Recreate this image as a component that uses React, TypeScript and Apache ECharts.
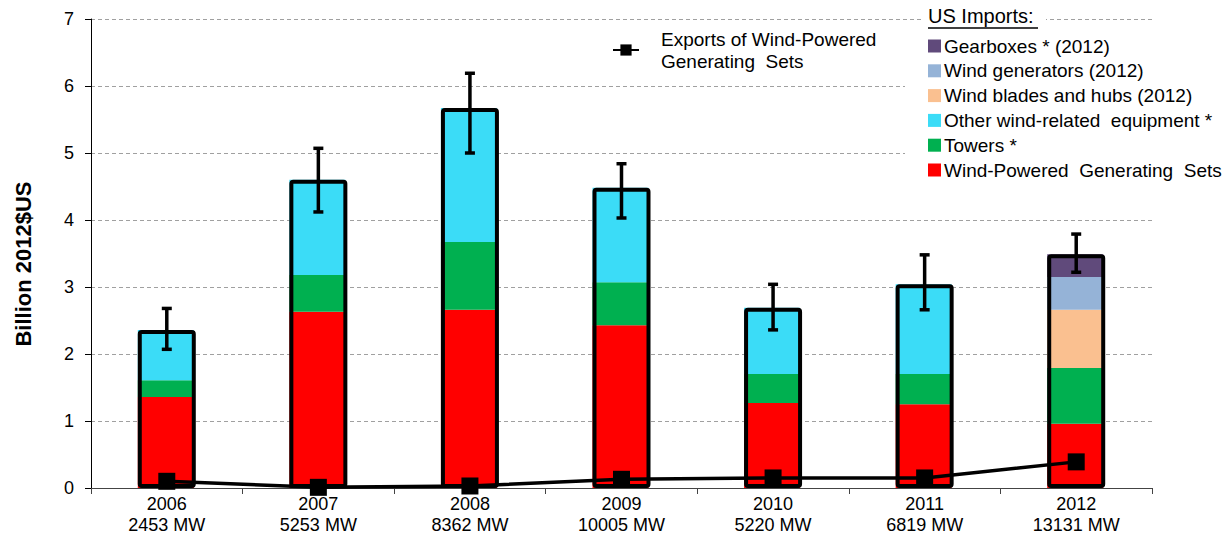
import React, { useEffect, useRef } from "react";
import * as echarts from "echarts";

const categories = ["2006\n2453 MW", "2007\n5253 MW", "2008\n8362 MW", "2009\n10005 MW", "2010\n5220 MW", "2011\n6819 MW", "2012\n13131 MW"];
const windSets = [1.36, 2.63, 2.66, 2.43, 1.27, 1.25, 0.96];
const towers = [0.25, 0.55, 1.01, 0.64, 0.43, 0.45, 0.83];
const otherEquip = [0.75, 1.42, 2.0, 1.41, 0.99, 1.34, 0];
const blades = [0, 0, 0, 0, 0, 0, 0.87];
const generators = [0, 0, 0, 0, 0, 0, 0.49];
const gearboxes = [0, 0, 0, 0, 0, 0, 0.34];
const totals = [2.36, 4.6, 5.67, 4.48, 2.69, 3.04, 3.49];
const errLow = [2.07, 4.12, 5.0, 4.03, 2.36, 2.66, 3.22];
const errHigh = [2.68, 5.07, 6.19, 4.84, 3.04, 3.48, 3.79];
const exportsVals = [0.1, 0.01, 0.03, 0.13, 0.15, 0.15, 0.39];
const yTicks = [0, 1, 2, 3, 4, 5, 6, 7];

const FONT = "Liberation Sans, Arial, sans-serif";
const EXPORT_NAME = "Exports of Wind-Powered\nGenerating  Sets";

export default function App() {
  const ref = useRef<HTMLDivElement>(null);
  useEffect(() => {
    const chart = echarts.init(ref.current!, null, { renderer: "svg" });
    const mkBar = (name: string, data: number[], color: string) => ({
      name,
      type: "bar",
      stack: "imports",
      data,
      barWidth: 56,
      itemStyle: { color, borderWidth: 0 },
      z: 2,
    });
    chart.setOption({
      animation: false,
      textStyle: { fontFamily: FONT },
      grid: { left: 91, right: 74, top: 19, bottom: 57, containLabel: false },
      xAxis: {
        type: "category",
        data: categories,
        axisLine: { lineStyle: { color: "#444", width: 1 } },
        axisTick: { show: true, length: 6, inside: false, lineStyle: { color: "#444" } },
        axisLabel: { color: "#000", fontSize: 18, lineHeight: 21, margin: 5, fontFamily: FONT },
      },
      yAxis: {
        type: "value",
        min: 0,
        max: 7,
        interval: 1,
        axisLine: { show: true, lineStyle: { color: "#000", width: 1 } },
        axisTick: { show: true, length: 6, lineStyle: { color: "#000" } },
        axisLabel: {
          color: "#000",
          fontSize: 18,
          margin: 17,
          fontFamily: FONT,
          formatter: (v: number) => (yTicks.includes(v) ? String(v) : ""),
        },
        splitLine: { show: true, lineStyle: { color: "#A0A0A0", type: [4, 3], width: 1 } },
      },
      legend: [
        {
          orient: "vertical",
          left: 928,
          top: 36,
          itemWidth: 13,
          itemHeight: 13,
          itemGap: 4.8,
          padding: 0,
          icon: "rect",
          data: [
            "Gearboxes * (2012)",
            "Wind generators (2012)",
            "Wind blades and hubs (2012)",
            "Other wind-related  equipment *",
            "Towers *",
            "Wind-Powered  Generating  Sets",
          ],
          textStyle: { color: "#000", fontSize: 19, fontFamily: FONT, padding: [0, 0, 0, -2], lineHeight: 20 },
          selectedMode: false,
          z: 10,
        },
        {
          orient: "vertical",
          left: 612,
          top: 28,
          itemWidth: 26,
          itemHeight: 14,
          padding: 0,
          data: [EXPORT_NAME],
          textStyle: { color: "#000", fontSize: 19, fontFamily: FONT, lineHeight: 22, padding: [0, 0, 0, 17] },
          selectedMode: false,
        },
      ],
      graphic: [
        { type: "rect", shape: { x: 905, y: 34, width: 321, height: 150 }, style: { fill: "#fff" }, z: 1 },
        { type: "rect", shape: { x: 922, y: 4, width: 124, height: 30 }, style: { fill: "#fff" }, z: 1 },
        {
          type: "text",
          left: 928,
          top: 6,
          style: { text: "US Imports:", fontSize: 20, fill: "#000", fontFamily: FONT },
          z: 5,
        },
        { type: "line", shape: { x1: 928, y1: 28, x2: 1038, y2: 28 }, style: { stroke: "#000", lineWidth: 1.5 }, z: 5 },
        {
          type: "text",
          x: 23,
          y: 264,
          rotation: Math.PI / 2,
          style: {
            text: "Billion 2012$US",
            fontSize: 22,
            fontWeight: "bold",
            fill: "#000",
            fontFamily: FONT,
            align: "center",
            verticalAlign: "middle",
          },
          z: 5,
        },
      ],
      series: [
        mkBar("Wind-Powered  Generating  Sets", windSets, "#FF0000"),
        mkBar("Towers *", towers, "#00B050"),
        mkBar("Other wind-related  equipment *", otherEquip, "#3BDCF7"),
        mkBar("Wind blades and hubs (2012)", blades, "#FAC090"),
        mkBar("Wind generators (2012)", generators, "#95B3D7"),
        mkBar("Gearboxes * (2012)", gearboxes, "#604A7B"),
        {
          name: "outline",
          type: "bar",
          data: totals,
          barWidth: 58,
          barGap: "-100%",
          itemStyle: { color: "rgba(0,0,0,0)", borderColor: "#000", borderWidth: 4, borderRadius: 2 },
          z: 3,
          silent: true,
        },
        {
          name: EXPORT_NAME,
          type: "line",
          data: exportsVals,
          symbol: "rect",
          symbolSize: 17,
          lineStyle: { color: "#000", width: 3.5 },
          itemStyle: { color: "#000" },
          z: 5,
        },
        {
          name: "error",
          type: "custom",
          data: errLow.map((lo, i) => [i, lo, errHigh[i]]),
          renderItem: (params: any, api: any) => {
            const i = api.value(0);
            const lo = api.coord([i, api.value(1)]);
            const hi = api.coord([i, api.value(2)]);
            const x = lo[0];
            const style = { stroke: "#000", lineWidth: 3.5 };
            return {
              type: "group",
              children: [
                { type: "line", shape: { x1: x, y1: lo[1], x2: x, y2: hi[1] }, style },
                { type: "line", shape: { x1: x - 5, y1: lo[1], x2: x + 5, y2: lo[1] }, style },
                { type: "line", shape: { x1: x - 5, y1: hi[1], x2: x + 5, y2: hi[1] }, style },
              ],
            };
          },
          z: 6,
          silent: true,
        },
      ],
    });
    return () => chart.dispose();
  }, []);
  return <div ref={ref} style={{ position: "absolute", left: 0, top: 0, width: 1226, height: 545 }} />;
}
